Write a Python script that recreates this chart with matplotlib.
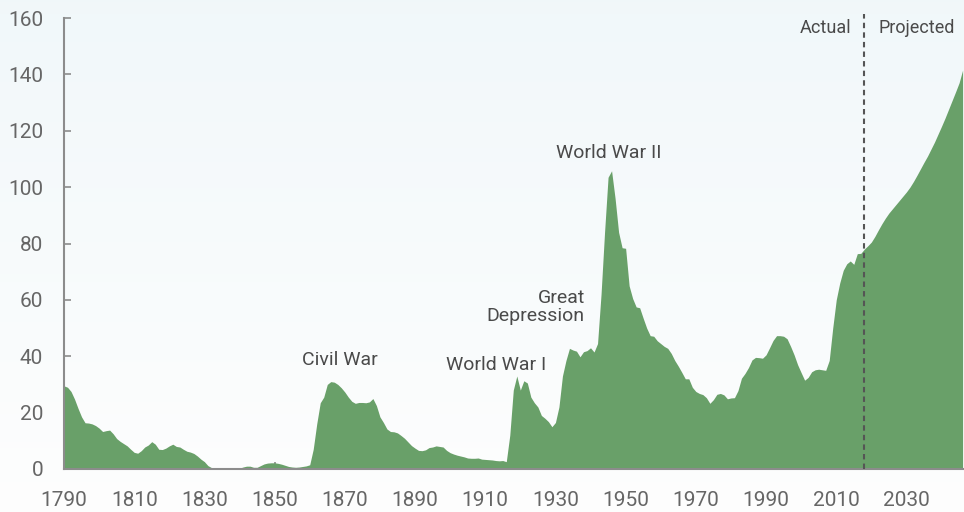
"""
Federal debt held by the public, 1790-2046 (percentage of GDP).
Green area chart with an actual/projected split at 2018.
"""

import numpy as np
import matplotlib
matplotlib.use("Agg")
import matplotlib.pyplot as plt

# ---- data -------------------------------------------------------------
first_year = 1790
debt_pct_gdp = [
    # 1790s
    29.5, 29.0, 27.5, 24.8, 21.5, 18.5, 16.4, 16.3, 16.0, 15.4,
    # 1800s
    14.5, 13.3, 13.6, 13.8, 12.5, 10.8, 9.8, 9.0, 8.2, 7.0,
    # 1810s
    5.9, 5.6, 6.5, 7.8, 8.5, 9.7, 8.8, 7.0, 6.9, 7.4,
    # 1820s
    8.2, 8.8, 8.0, 7.8, 7.0, 6.3, 6.0, 5.5, 4.6, 3.5,
    # 1830s
    2.6, 1.2, 0.5, 0.1, 0.0, 0.0, 0.0, 0.1, 0.2, 0.1,
    # 1840s
    0.3, 0.7, 1.0, 1.0, 0.6, 0.6, 1.2, 1.8, 2.1, 2.2,
    # 1850s
    2.2, 2.0, 1.7, 1.3, 0.9, 0.7, 0.6, 0.7, 0.9, 1.1,
    # 1860s
    1.5, 7.0, 16.0, 23.5, 25.5, 30.0, 31.0, 30.8, 30.0, 28.8,
    # 1870s
    27.3, 25.5, 24.0, 23.3, 23.6, 23.6, 23.5, 23.8, 25.0, 22.5,
    # 1880s
    18.5, 16.5, 14.2, 13.3, 13.2, 12.8, 11.9, 10.9, 9.6, 8.3,
    # 1890s
    7.4, 6.6, 6.5, 6.8, 7.6, 7.8, 8.2, 8.0, 7.8, 6.6,
    # 1900s
    5.8, 5.3, 4.9, 4.6, 4.3, 3.9, 3.8, 3.8, 3.9, 3.5,
    # 1910s
    3.4, 3.3, 3.2, 3.0, 2.9, 3.0, 2.6, 12.0, 28.0, 33.0,
    # 1920s
    28.0, 31.3, 30.5, 25.5, 23.5, 22.0, 19.0, 18.0, 16.8, 15.0,
    # 1930s
    16.5, 22.0, 33.0, 38.5, 42.8, 42.2, 41.8, 39.8, 41.6, 42.0,
    # 1940s
    43.0, 41.5, 44.5, 62.0, 84.0, 103.5, 105.8, 96.0, 84.0, 78.5,
    # 1950s
    78.3, 65.0, 60.5, 57.5, 57.2, 53.5, 50.0, 47.3, 47.1, 45.5,
    # 1960s
    44.5, 43.5, 42.8, 41.0, 38.5, 36.5, 34.3, 32.0, 32.0, 29.0,
    # 1970s
    27.5, 26.8, 26.4, 25.3, 23.3, 24.6, 26.5, 26.8, 26.3, 24.9,
    # 1980s
    25.2, 25.3, 27.8, 32.2, 33.9, 36.0, 38.7, 39.6, 39.5, 39.3,
    # 1990s
    40.5, 43.0, 45.6, 47.3, 47.3, 47.1, 46.2, 43.5, 40.5, 37.0,
    # 2000s
    34.2, 31.5, 32.5, 34.5, 35.2, 35.4, 35.2, 35.0, 38.5, 50.0,
    # 2010s
    60.0, 66.0, 70.5, 72.8, 73.8, 72.6, 76.4, 76.5, 78.0, 79.2,
    # 2020s
    80.5, 82.5, 84.8, 87.0, 89.0, 90.8, 92.3, 93.8, 95.3, 96.8,
    # 2030s
    98.3, 100.0, 102.0, 104.2, 106.5, 108.8, 111.0, 113.5, 116.0, 118.8,
    # 2040s
    121.6, 124.5, 127.6, 130.7, 133.8, 137.0, 141.5,
]
years = np.arange(first_year, first_year + len(debt_pct_gdp))

split_year = 2018
x_ticks = list(range(1790, 2031, 20))
y_ticks = list(range(0, 161, 20))

events = [
    ("Civil War", 1868.6, 38.8, "center"),
    ("World War I", 1913.1, 37.0, "center"),
    ("Great\nDepression", 1938.4, 57.5, "right"),
    ("World War II", 1945.1, 112.0, "center"),
]

# ---- style ------------------------------------------------------------
FILL = "#69a069"
SPINE = "#8c8c8c"
TICK_TEXT = "#666666"
NOTE_TEXT = "#4a4a4a"
plt.rcParams["font.family"] = ["Roboto", "DejaVu Sans"]

fig = plt.figure(figsize=(9.64, 5.12), dpi=100)

# soft vertical gradient behind everything
bg = fig.add_axes([0, 0, 1, 1], zorder=-10)
grad = np.linspace(0, 1, 256).reshape(-1, 1)
top = np.array([0.945, 0.972, 0.980])
bottom = np.array([0.995, 0.995, 0.995])
img = top[None, None, :] * (1 - grad[..., None]) + bottom[None, None, :] * grad[..., None]
bg.imshow(img, aspect="auto", extent=[0, 1, 0, 1])
bg.axis("off")

ax = fig.add_axes([64 / 964, 43 / 512, 900 / 964, 451 / 512])
ax.patch.set_alpha(0)

ax.fill_between(years, debt_pct_gdp, 0, color=FILL, lw=0, zorder=2)

ax.set_xlim(1790, 2046.4)
ax.set_ylim(0, 160)
ax.set_xticks(x_ticks)
ax.set_yticks(y_ticks)

for side in ("top", "right"):
    ax.spines[side].set_visible(False)
for side in ("left", "bottom"):
    ax.spines[side].set_color(SPINE)
    ax.spines[side].set_linewidth(1.5)
    ax.spines[side].set_zorder(3)

ax.tick_params(axis="both", direction="in", length=5, width=1.2, color=SPINE,
               labelsize=15, labelcolor=TICK_TEXT)
ax.tick_params(axis="y", pad=15)
ax.tick_params(axis="x", pad=16)

# actual / projected divider
ax.axvline(split_year, ymin=0, ymax=1.008, color="#555555", lw=1.5,
           ls=(0, (2.6, 2.0)), clip_on=False, zorder=4)
ax.text(split_year - 3.6, 156.3, "Actual", ha="right", va="center",
        fontsize=13, color=NOTE_TEXT)
ax.text(split_year + 4.0, 156.3, "Projected", ha="left", va="center",
        fontsize=13, color=NOTE_TEXT)

for label, x, y, align in events:
    ax.text(x, y, label, ha=align, va="center", fontsize=14, color=NOTE_TEXT,
            linespacing=1.05)

fig.savefig("out.png", dpi=100)
plt.close(fig)
